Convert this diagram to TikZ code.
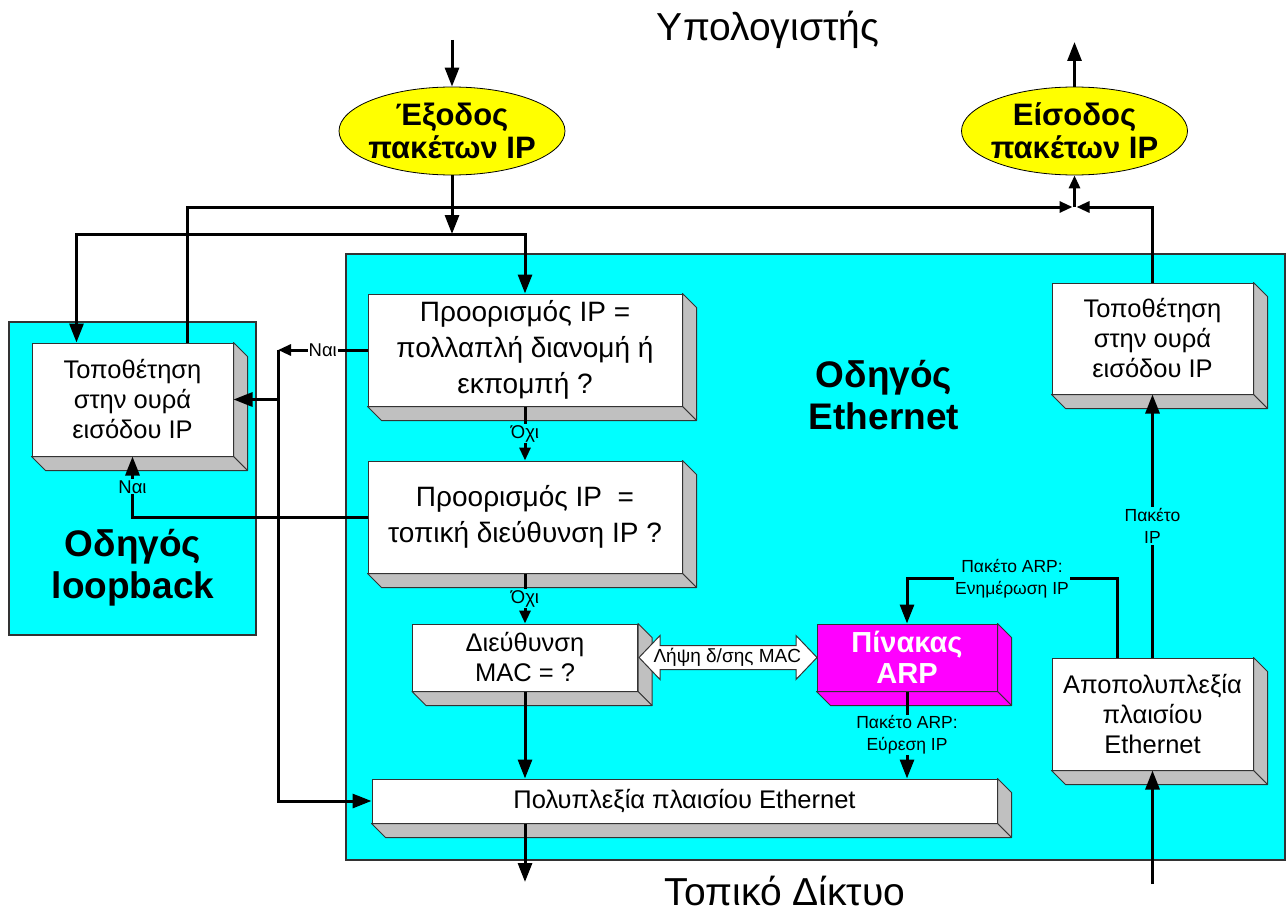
\documentclass[tikz,border=0pt]{standalone}
\usepackage{fontspec}
\setmainfont{Liberation Sans}
\usetikzlibrary{arrows.meta,shapes.geometric,calc}
\definecolor{cy}{HTML}{00FFFF}
\definecolor{ye}{HTML}{FFFF00}
\definecolor{mg}{HTML}{FF00FF}
\definecolor{face}{HTML}{C0C0C0}
\definecolor{edge}{HTML}{333333}
\newcommand\boxsides[2]{%
  \draw[edge, line width=1pt, fill=#2, line join=round] (#1.north east) -- ++(14,14) -- ([shift={(14,14)}]#1.south east) -- (#1.south east) -- cycle;
  \draw[edge, line width=1pt, fill=#2, line join=round] (#1.south west) -- ++(14,14) -- ([shift={(14,14)}]#1.south east) -- (#1.south east) -- cycle;
}
\begin{document}
\begin{tikzpicture}[x=1pt,y=-1pt,
  conn/.style={line width=3pt, black},
  arr/.style={conn, -{Triangle[length=19pt,width=14pt]}},
  sarr/.style={conn, -{Triangle[length=13pt,width=11pt]}},
  front/.style={draw=edge, line width=1pt, fill=white, rectangle, inner sep=0pt, align=center},
  drv/.style={draw=edge, line width=1.2pt, fill=cy},
  oval/.style={ellipse, draw=black, line width=0.8pt, fill=ye, minimum width=226pt, minimum height=88pt, inner sep=0pt},
  ovtxt/.style={align=center, font=\fontsize{31}{33}\selectfont\bfseries},
  lbl/.style={align=center, inner sep=1pt, font=\fontsize{17.5}{22}\selectfont},
  slbl/.style={align=center, inner sep=1pt, font=\fontsize{18.5}{20}\selectfont},
  big/.style={align=center, font=\fontsize{37}{42}\selectfont\bfseries},
  txt/.style={font=\fontsize{25.5}{30}\selectfont},
  txtb/.style={font=\fontsize{28}{36}\selectfont}
]
\path[use as bounding box, fill=white] (0,0) rectangle (1287,915);

% driver areas
\draw[drv] (9,322) rectangle (256,635);
\draw[drv] (346,254) rectangle (1285,860);

% titles
\node[anchor=base] (pc) at (768,41) {\fontsize{39}{42}\selectfont Υπολογιστής};
\node[anchor=base, inner sep=0pt] (lan) at (785,905) {\fontsize{39}{42}\selectfont Τοπικό Δίκτυο};
\node[big] (eth) at (884,395) {Οδηγός\\Ethernet};
\node[big] (lo) at (133,568) {Οδηγός\\loopback};

% ellipses
\node[oval, label={[ovtxt]center:{Έξοδος\\πακέτων IP}}] (e1) at (452,131) {};
\node[oval, label={[ovtxt]center:{Είσοδος\\πακέτων IP}}] (e2) at (1074.5,131) {};

% boxes
\node[front, txt, minimum width=201pt, minimum height=113pt] (lb) at (132.5,399.5) {Τοποθέτηση\\στην ουρά\\εισόδου IP};
\boxsides{lb}{face}
\node[front, txtb, minimum width=314pt, minimum height=112pt] (b1) at (525,350) {Προορισμός IP =\\πολλαπλή διανομή ή\\εκπομπή ?};
\boxsides{b1}{face}
\node[front, txtb, minimum width=314pt, minimum height=112pt] (b2) at (525,517) {Προορισμός IP \ =\\τοπική διεύθυνση IP ?};
\boxsides{b2}{face}
\node[front, txt, minimum width=225pt, minimum height=67pt] (b3) at (525,657.5) {Διεύθυνση\\MAC = ?};
\boxsides{b3}{face}
\node[front, fill=mg, minimum width=180pt, minimum height=67pt, text=white, font=\fontsize{29}{31}\selectfont\bfseries] (arp) at (907,657.5) {Πίνακας\\ARP};
\boxsides{arp}{mg}
\node[front, txt, minimum width=625pt, minimum height=44pt] (mux) at (684.5,801) {Πολυπλεξία πλαισίου Ethernet};
\boxsides{mux}{face}
\node[front, txt, minimum width=201pt, minimum height=111pt] (rq) at (1152.5,338.5) {Τοποθέτηση\\στην ουρά\\εισόδου IP};
\boxsides{rq}{face}
\node[front, txt, minimum width=201pt, minimum height=112pt] (dm) at (1152.5,714) {Αποπολυπλεξία\\πλαισίου\\Ethernet};
\boxsides{dm}{face}

% junction coordinates and free ends
\coordinate (pcin) at (452,40);
\coordinate (pcout) at (1074.5,42);
\coordinate (j1) at (452,234);
\coordinate (jin) at (1074.5,207);
\coordinate (jn) at (278,350);
\coordinate (lanout) at (525,882);
\coordinate (lanin) at (1152.5,884);

% connectors
\draw[arr] (pcin) -- (e1.north);
\draw[arr] (e1.south) -- (j1);
\draw[arr] (j1) -| ([xshift=45pt]lb.north west);
\draw[arr] (j1) -| (b1.north);
\draw[sarr] ([xshift=155.5pt]lb.north west) |- ([xshift=-2pt]jin);
\draw[sarr] (rq.north) |- ([xshift=2pt]jin);
\draw[sarr] (jin) -- (e2.south);
\draw[arr] (e2.north) -- (pcout);

\draw[sarr] (b1.south) -- node[slbl, fill=cy]{Όχι} (b2.north);
\draw[sarr] (b2.south) -- node[slbl, fill=cy]{Όχι} (b3.north);

\draw[sarr] (b1.west) -- node[slbl, fill=white]{Ναι} (jn);
\draw[conn] (jn) -- (jn |- mux.west);
\draw[arr] (jn |- lb.east) -- (lb.east);
\draw[arr] (jn) |- (mux.west);
\draw[arr] (b2.west) -| node[pos=0.75, slbl, fill=cy]{Ναι} (lb.south);

\draw[arr] (b3.south) -- (b3.south |- mux.north);
\draw[arr] (arp.south) -- node[lbl, fill=cy]{Πακέτο ARP:\\Εύρεση IP} (arp.south |- mux.north);
\draw[arr] (mux.south) ++(-159.5,0) coordinate (muxo) -- (lanout);
\draw[arr] (lanin) -- (dm.south);
\draw[arr] (dm.north) -- node[lbl, fill=cy]{Πακέτο\\IP} (rq.south);
\draw[arr] ([xshift=-35.5pt]dm.north) -- ++(0,-79) -| node[pos=0.25, lbl, fill=cy]{Πακέτο ARP:\\Ενημέρωση IP} (arp.north);

% double arrow between MAC box and ARP table
\draw[edge, line width=1pt, fill=white, line join=miter]
  (b3.east) ++(1,0) -- ++(21,-22) -- ++(0,10) -- ++(136,0) -- ++(0,-10) -- ++(21,22)
  -- ++(-21,22) -- ++(0,-10) -- ++(-136,0) -- ++(0,10) -- cycle;
\node[lbl, font=\fontsize{19}{22}\selectfont] (mac) at ($(b3.east)!0.5!(arp.west)$) {Λήψη δ/σης MAC};
\end{tikzpicture}
\end{document}
